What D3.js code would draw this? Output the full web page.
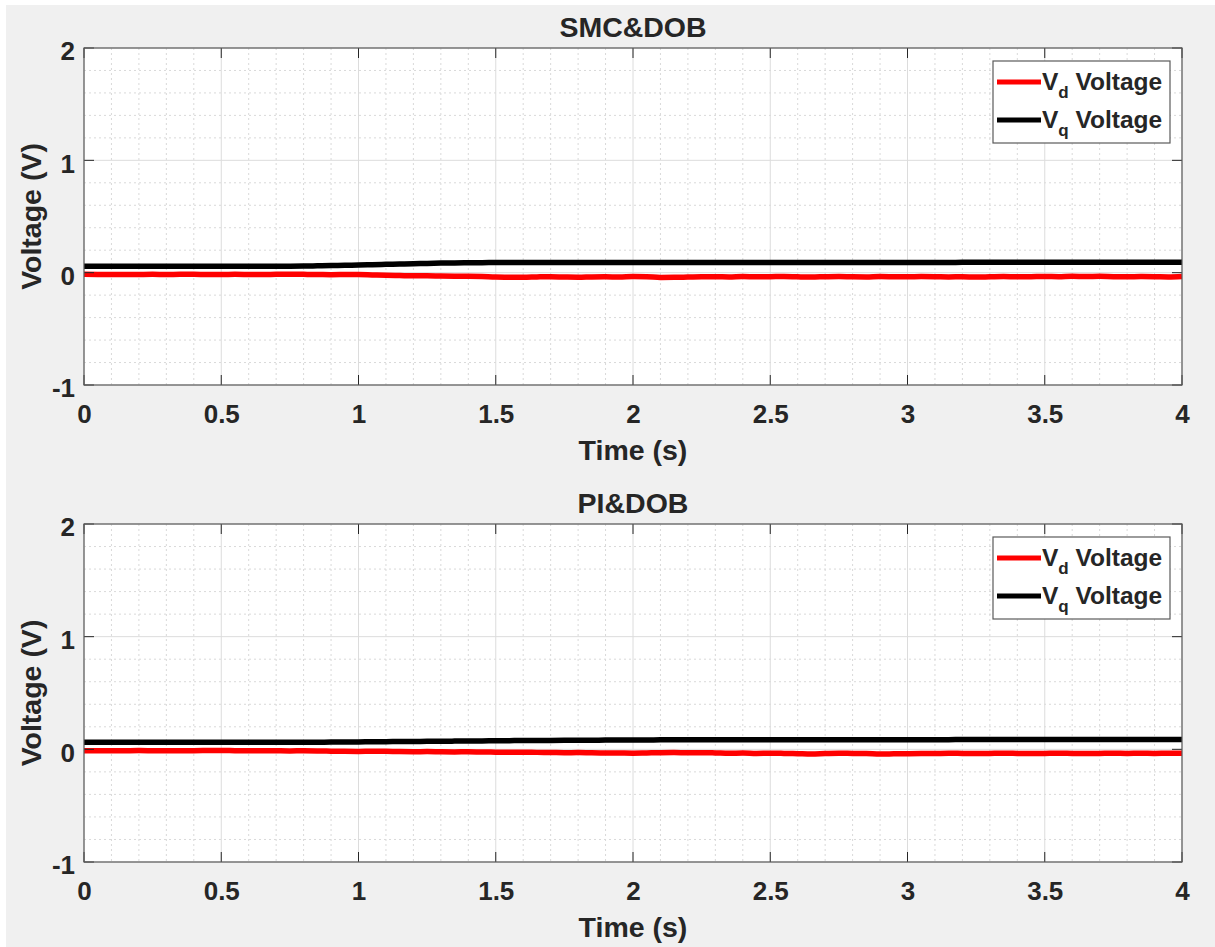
<!DOCTYPE html>
<html>
<head>
<meta charset="utf-8">
<script src="https://cdn.jsdelivr.net/npm/d3@7"></script>
<style>
  html, body { margin: 0; padding: 0; background: #ffffff; }
  svg { display: block; }
  text { font-family: "Liberation Sans", Arial, Helvetica, sans-serif; font-weight: bold; fill: #262626; }
</style>
</head>
<body>
<svg id="chart" width="1215" height="947"></svg>
<script>
// ---------------- DATA ----------------
const time = [0,0.05,0.1,0.15,0.2,0.25,0.3,0.35,0.4,0.45,0.5,0.55,0.6,0.65,0.7,0.75,0.8,0.85,0.9,0.95,
  1,1.05,1.1,1.15,1.2,1.25,1.3,1.35,1.4,1.45,1.5,1.55,1.6,1.65,1.7,1.75,1.8,1.85,1.9,1.95,
  2,2.05,2.1,2.15,2.2,2.25,2.3,2.35,2.4,2.45,2.5,2.55,2.6,2.65,2.7,2.75,2.8,2.85,2.9,2.95,
  3,3.05,3.1,3.15,3.2,3.25,3.3,3.35,3.4,3.45,3.5,3.55,3.6,3.65,3.7,3.75,3.8,3.85,3.9,3.95,4];

const smcVd = [-0.015,-0.016,-0.016,-0.017,-0.016,-0.015,-0.016,-0.015,-0.015,-0.016,-0.016,-0.015,-0.016,-0.017,-0.015,-0.014,-0.015,-0.016,-0.018,-0.017,
  -0.016,-0.020,-0.024,-0.026,-0.028,-0.027,-0.030,-0.032,-0.033,-0.035,-0.039,-0.040,-0.041,-0.038,-0.036,-0.039,-0.041,-0.038,-0.037,-0.039,
  -0.035,-0.036,-0.042,-0.041,-0.039,-0.037,-0.036,-0.038,-0.035,-0.037,-0.036,-0.034,-0.037,-0.039,-0.036,-0.034,-0.037,-0.038,-0.035,-0.036,
  -0.037,-0.035,-0.036,-0.038,-0.036,-0.039,-0.037,-0.035,-0.037,-0.036,-0.034,-0.036,-0.032,-0.035,-0.033,-0.036,-0.037,-0.035,-0.036,-0.038,
  -0.034];
const smcVq = [0.058,0.058,0.058,0.058,0.058,0.058,0.058,0.058,0.058,0.058,0.058,0.058,0.058,0.058,0.058,0.058,0.059,0.061,0.063,0.066,
  0.068,0.071,0.074,0.077,0.080,0.082,0.085,0.087,0.088,0.089,0.090,0.091,0.091,0.091,0.091,0.091,0.091,0.091,0.091,0.091,
  0.091,0.091,0.091,0.091,0.091,0.091,0.091,0.091,0.091,0.091,0.091,0.091,0.091,0.091,0.091,0.091,0.091,0.091,0.091,0.091,
  0.091,0.091,0.091,0.091,0.092,0.092,0.092,0.092,0.092,0.092,0.092,0.092,0.092,0.092,0.092,0.092,0.092,0.092,0.092,0.092,
  0.092];
const piVd = [-0.012,-0.012,-0.013,-0.012,-0.011,-0.012,-0.013,-0.012,-0.012,-0.011,-0.010,-0.012,-0.013,-0.012,-0.013,-0.014,-0.013,-0.014,-0.016,-0.018,
  -0.019,-0.017,-0.018,-0.020,-0.021,-0.020,-0.022,-0.023,-0.022,-0.024,-0.025,-0.026,-0.025,-0.027,-0.028,-0.030,-0.029,-0.031,-0.032,-0.033,
  -0.034,-0.032,-0.030,-0.029,-0.031,-0.030,-0.032,-0.035,-0.033,-0.036,-0.034,-0.036,-0.039,-0.042,-0.038,-0.035,-0.036,-0.037,-0.041,-0.040,
  -0.039,-0.038,-0.037,-0.035,-0.036,-0.037,-0.036,-0.035,-0.036,-0.037,-0.036,-0.035,-0.036,-0.037,-0.036,-0.035,-0.036,-0.035,-0.036,-0.034,
  -0.035];
const piVq = [0.062,0.062,0.062,0.062,0.062,0.062,0.062,0.062,0.062,0.062,0.062,0.062,0.062,0.062,0.062,0.062,0.062,0.063,0.064,0.065,
  0.066,0.067,0.068,0.069,0.070,0.071,0.072,0.073,0.074,0.075,0.076,0.077,0.078,0.078,0.079,0.080,0.081,0.081,0.082,0.082,
  0.083,0.083,0.084,0.084,0.085,0.085,0.085,0.085,0.086,0.086,0.086,0.086,0.086,0.086,0.086,0.086,0.086,0.086,0.086,0.086,
  0.086,0.086,0.086,0.086,0.087,0.087,0.087,0.087,0.087,0.087,0.087,0.087,0.087,0.087,0.087,0.087,0.087,0.087,0.087,0.087,
  0.087];

const titles = ["SMC&DOB", "PI&DOB"];
const xTicks = [0, 0.5, 1, 1.5, 2, 2.5, 3, 3.5, 4];
const xTickLabels = ["0", "0.5", "1", "1.5", "2", "2.5", "3", "3.5", "4"];
const yTicks = [-1, 0, 1, 2];
const yTickLabels = ["-1", "0", "1", "2"];
const xMinor = [0.1,0.2,0.3,0.4,0.6,0.7,0.8,0.9,1.1,1.2,1.3,1.4,1.6,1.7,1.8,1.9,2.1,2.2,2.3,2.4,2.6,2.7,2.8,2.9,3.1,3.2,3.3,3.4,3.6,3.7,3.8,3.9];
const yMinor = [-0.8,-0.6,-0.4,-0.2,0.2,0.4,0.6,0.8,1.2,1.4,1.6,1.8];
const legendSubs = ["d", "q"];
const seriesColors = ["#ff0000", "#000000"];
const xLabel = "Time (s)";
const yLabel = "Voltage (V)";

// ---------------- DRAW ----------------
const svg = d3.select("#chart");
svg.append("rect").attr("x", 6).attr("y", 5).attr("width", 1209).attr("height", 942).attr("fill", "#f0f0f0");

const panels = [
  { title: titles[0], top: 48, bottom: 385, series: [smcVd, smcVq] },
  { title: titles[1], top: 524, bottom: 862, series: [piVd, piVq] }
];
const left = 84, right = 1182;

panels.forEach((p, pi) => {
  const x = d3.scaleLinear().domain([0, 4]).range([left, right]);
  const y = d3.scaleLinear().domain([-1, 2]).range([p.bottom, p.top]);
  const g = svg.append("g");

  g.append("rect").attr("x", left).attr("y", p.top).attr("width", right - left).attr("height", p.bottom - p.top).attr("fill", "#ffffff");

  // minor grid
  g.selectAll(".mx").data(xMinor).enter().append("line")
    .attr("x1", d => x(d)).attr("x2", d => x(d)).attr("y1", p.top).attr("y2", p.bottom)
    .attr("stroke", "#d9d9d9").attr("stroke-width", 1).attr("stroke-dasharray", "2,3");
  g.selectAll(".my").data(yMinor).enter().append("line")
    .attr("y1", d => y(d)).attr("y2", d => y(d)).attr("x1", left).attr("x2", right)
    .attr("stroke", "#d9d9d9").attr("stroke-width", 1).attr("stroke-dasharray", "2,3");
  // major grid
  g.selectAll(".gx").data(xTicks).enter().append("line")
    .attr("x1", d => x(d)).attr("x2", d => x(d)).attr("y1", p.top).attr("y2", p.bottom)
    .attr("stroke", "#dcdcdc").attr("stroke-width", 1);
  g.selectAll(".gy").data(yTicks).enter().append("line")
    .attr("y1", d => y(d)).attr("y2", d => y(d)).attr("x1", left).attr("x2", right)
    .attr("stroke", "#dcdcdc").attr("stroke-width", 1);

  // lines
  const clipId = "clip" + pi;
  svg.append("clipPath").attr("id", clipId).append("rect")
    .attr("x", left).attr("y", p.top).attr("width", right - left).attr("height", p.bottom - p.top);
  const line = d3.line().x((d, i) => x(time[i])).y(d => y(d)).curve(d3.curveMonotoneX);
  p.series.forEach((s, si) => {
    g.append("path").datum(s).attr("d", line).attr("fill", "none")
      .attr("stroke", seriesColors[si]).attr("stroke-width", 5.5)
      .attr("stroke-linejoin", "round").attr("clip-path", `url(#${clipId})`);
  });

  // axes via d3
  const axB = d3.axisBottom(x).tickValues(xTicks).tickFormat((d, i) => xTickLabels[i]).tickSize(0).tickPadding(20);
  const axL = d3.axisLeft(y).tickValues(yTicks).tickFormat((d, i) => yTickLabels[i]).tickSize(0).tickPadding(9);
  const gb = g.append("g").attr("transform", `translate(0,${p.bottom})`).call(axB);
  gb.select(".domain").remove();
  gb.selectAll("text").attr("font-size", 26).attr("dy", "0.71em").attr("fill", "#262626")
    .style("font-family", '"Liberation Sans", Arial, sans-serif').style("font-weight", "bold");
  const gl = g.append("g").attr("transform", `translate(${left},0)`).call(axL);
  gl.select(".domain").remove();
  gl.selectAll("text").attr("font-size", 26).attr("dy", "0.45em").attr("fill", "#262626")
    .style("font-family", '"Liberation Sans", Arial, sans-serif').style("font-weight", "bold");

  // inward tick marks on all four sides
  const tl = 10;
  xTicks.forEach(t => {
    g.append("line").attr("x1", x(t)).attr("x2", x(t)).attr("y1", p.bottom).attr("y2", p.bottom - tl).attr("stroke", "#262626").attr("stroke-width", 1);
    g.append("line").attr("x1", x(t)).attr("x2", x(t)).attr("y1", p.top).attr("y2", p.top + tl).attr("stroke", "#262626").attr("stroke-width", 1);
  });
  yTicks.forEach(t => {
    g.append("line").attr("y1", y(t)).attr("y2", y(t)).attr("x1", left).attr("x2", left + tl).attr("stroke", "#262626").attr("stroke-width", 1);
    g.append("line").attr("y1", y(t)).attr("y2", y(t)).attr("x1", right).attr("x2", right - tl).attr("stroke", "#262626").attr("stroke-width", 1);
  });

  // box
  g.append("rect").attr("x", left).attr("y", p.top).attr("width", right - left).attr("height", p.bottom - p.top)
    .attr("fill", "none").attr("stroke", "#5a5a5a").attr("stroke-width", 1.2);

  // title & labels
  g.append("text").attr("x", (left + right) / 2).attr("y", p.top - 11).attr("text-anchor", "middle")
    .attr("font-size", 28.5).text(p.title);
  g.append("text").attr("x", (left + right) / 2).attr("y", p.bottom + 75).attr("text-anchor", "middle")
    .attr("font-size", 28.5).text(xLabel);
  const yc = (p.top + p.bottom) / 2;
  g.append("text").attr("transform", `translate(41,${yc}) rotate(-90)`).attr("text-anchor", "middle")
    .attr("font-size", 28.5).text(yLabel);

  // legend
  const lx = 993, ly = p.top + 13, lw = 177, lh = 82;
  const lg = g.append("g");
  lg.append("rect").attr("x", lx).attr("y", ly).attr("width", lw).attr("height", lh)
    .attr("fill", "#ffffff").attr("stroke", "#5a5a5a").attr("stroke-width", 1.2);
  legendSubs.forEach((sub, i) => {
    const ry = ly + 21 + i * 38;
    lg.append("line").attr("x1", lx + 4).attr("x2", lx + 48).attr("y1", ry).attr("y2", ry)
      .attr("stroke", seriesColors[i]).attr("stroke-width", 5);
    const t = lg.append("text").attr("x", lx + 49).attr("y", ry + 8).attr("font-size", 24.5).attr("fill", "#000");
    t.append("tspan").text("V");
    t.append("tspan").attr("font-size", 17).attr("dy", 8).text(sub);
    t.append("tspan").attr("dy", -8).text("\u00a0Voltage");
  });
});
</script>
</body>
</html>
